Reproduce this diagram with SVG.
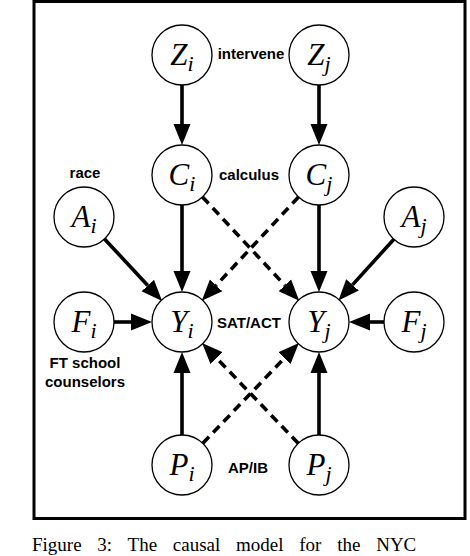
<svg xmlns="http://www.w3.org/2000/svg" width="470" height="556" viewBox="0 0 470 556">
<defs>
<marker id="ah" markerUnits="userSpaceOnUse" markerWidth="22" markerHeight="18" viewBox="0 -9 22 18" refX="0" refY="0" orient="auto">
<path d="M0,-8.5 L21,0 L0,8.5 z" fill="#000"/>
</marker>
<style>
.n circle{fill:#fff;stroke:#000;stroke-width:1.3}
.n text{font-family:"Liberation Serif","Times New Roman",serif;font-style:italic;font-size:31px;text-anchor:middle;fill:#000}
.n tspan{font-size:22px}
.lbl{font-family:"Liberation Sans",Arial,sans-serif;font-weight:bold;font-size:15px;text-anchor:middle;fill:#000}
.e line{stroke:#000;stroke-width:3.6;marker-end:url(#ah)}
.e line.d{stroke-dasharray:9 6}
</style>
</defs>
<rect x="34" y="1.5" width="431" height="517" fill="#fff" stroke="#000" stroke-width="3"/>
<g id="connectors" class="e">
<line x1="182" y1="85" x2="182" y2="124"/>
<line x1="319" y1="85" x2="319" y2="124"/>
<line x1="182" y1="205" x2="182" y2="271"/>
<line x1="319" y1="205" x2="319" y2="271"/>
<line x1="104.5" y1="238.9" x2="147.8" y2="285.5"/>
<line x1="393.9" y1="239.2" x2="352.5" y2="284.9"/>
<line x1="114" y1="322" x2="131" y2="322"/>
<line x1="384" y1="322" x2="370" y2="322"/>
<line x1="182" y1="435" x2="182" y2="373"/>
<line x1="319" y1="435" x2="319" y2="373"/>
<line class="d" x1="202.5" y1="197" x2="284.9" y2="285.4"/>
<line class="d" x1="298.5" y1="197" x2="216.1" y2="285.4"/>
<line class="d" x1="202.8" y1="443.3" x2="284.4" y2="358.1"/>
<line class="d" x1="298.2" y1="443.3" x2="216.6" y2="358.1"/>
</g>
<g id="Zi" class="n"><circle cx="182" cy="55" r="30"/><text x="182" y="65">Z<tspan dy="6">i</tspan></text></g>
<g id="Zj" class="n"><circle cx="319" cy="55" r="30"/><text x="319" y="65">Z<tspan dy="6">j</tspan></text></g>
<g id="Ci" class="n"><circle cx="182" cy="175" r="30"/><text x="182" y="185">C<tspan dy="6">i</tspan></text></g>
<g id="Cj" class="n"><circle cx="319" cy="175" r="30"/><text x="319" y="185">C<tspan dy="6">j</tspan></text></g>
<g id="Ai" class="n"><circle cx="84" cy="217" r="30"/><text x="84" y="227">A<tspan dy="6">i</tspan></text></g>
<g id="Aj" class="n"><circle cx="414" cy="217" r="30"/><text x="414" y="227">A<tspan dy="6">j</tspan></text></g>
<g id="Fi" class="n"><circle cx="84" cy="322" r="30"/><text x="84" y="332">F<tspan dy="6">i</tspan></text></g>
<g id="Yi" class="n"><circle cx="182" cy="322" r="30"/><text x="182" y="332">Y<tspan dy="6">i</tspan></text></g>
<g id="Yj" class="n"><circle cx="319" cy="322" r="30"/><text x="319" y="332">Y<tspan dy="6">j</tspan></text></g>
<g id="Fj" class="n"><circle cx="414" cy="322" r="30"/><text x="414" y="332">F<tspan dy="6">j</tspan></text></g>
<g id="Pi" class="n"><circle cx="182" cy="465" r="30"/><text x="182" y="475">P<tspan dy="6">i</tspan></text></g>
<g id="Pj" class="n"><circle cx="319" cy="465" r="30"/><text x="319" y="475">P<tspan dy="6">j</tspan></text></g>
<g id="labels">
<text class="lbl" x="251" y="59">intervene</text>
<text class="lbl" x="249" y="180">calculus</text>
<text class="lbl" x="85" y="178">race</text>
<text class="lbl" x="249" y="328">SAT/ACT</text>
<text class="lbl" x="85" y="368">FT school</text>
<text class="lbl" x="85" y="387">counselors</text>
<text class="lbl" x="248" y="473">AP/IB</text>
</g>
<text x="32" y="551" font-family="Liberation Serif,'Times New Roman',serif" font-size="19" word-spacing="11">Figure 3: The causal model for the NYC</text>
</svg>
